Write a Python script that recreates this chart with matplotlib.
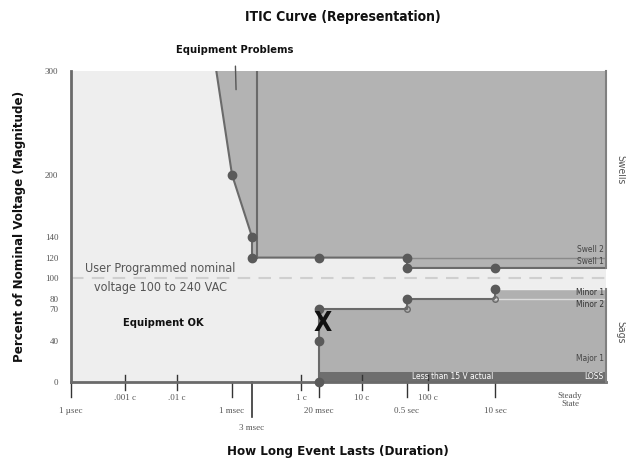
import numpy as np
import matplotlib
matplotlib.use('Agg')
import matplotlib.pyplot as plt
import matplotlib.transforms as mtransforms

# durations are in seconds, voltages in percent of nominal
STEADY = 100.0      # "Steady State" is drawn at this duration
RIGHT_END = 10 ** 2.5

# schematic time axis: log10(seconds) -> position (not a true log scale)
AXIS_LOG = [-6, -4.778, -3.778, -3, -2.523, -1.778, -1.699, -0.778, -0.301, 0.222, 1, 2, 2.5]
AXIS_POS = [0, 54, 106, 161, 181, 230, 248, 291, 336, 357, 424, 499, 535]

# swell side of the curve (equipment problems above it)
swell_t = [6e-4, 1e-3, 3e-3, 3e-3, 0.5, 0.5, RIGHT_END]
swell_v = [300, 200, 140, 120, 120, 110, 110]
swell_pts_t = [1e-3, 3e-3, 3e-3, 0.02, 0.5, 0.5, 10]
swell_pts_v = [200, 140, 120, 120, 120, 110, 110]
swell_edge_t = 3.6e-3

# sag side of the curve
sag_t = [0.02, 0.02, 0.5, 0.5, 10, 10, RIGHT_END]
sag_v = [0, 70, 70, 80, 80, 90, 90]
sag_pts_t = [0.02, 0.02, 0.02, 0.5, 10]
sag_pts_v = [0, 40, 70, 80, 90]
sag_small_t = [0.5, 10]
sag_small_v = [70, 80]
loss_level = 10

# axis ticks
cycle_labels = ['.001 c', '.01 c', '1 c', '10 c', '100 c']
cycle_t = [1 / 60000, 1 / 6000, 1 / 60, 10 / 60, 100 / 60]
time_labels = ['1 \u00b5sec', '1 msec', '20 msec', '0.5 sec', '10 sec']
time_t = [1e-6, 1e-3, 0.02, 0.5, 10]
y_ticks = [0, 40, 70, 80, 100, 120, 140, 200, 300]

# band labels on the right
band_labels = ['Swell 2', 'Swell 1', 'Minor 1', 'Minor 2', 'Major 1']
band_v = [128, 116, 86, 75, 23]


def fwd(x):
    return np.interp(np.log10(np.clip(x, 1e-9, None)), AXIS_LOG, AXIS_POS)


def inv(p):
    return 10 ** np.interp(p, AXIS_POS, AXIS_LOG)


narrow = dict(family='DejaVu Sans', stretch='condensed')
serif = ['Liberation Serif', 'DejaVu Serif']

fig = plt.figure(figsize=(6.26, 4.63), dpi=100)
W, H = 626, 463
ax = fig.add_axes([71 / W, 1 - 382 / H, 535 / W, 311 / H])
ax.set_xscale('function', functions=(fwd, inv))
ax.set_xlim(1e-6, RIGHT_END)
ax.set_ylim(0, 300)
ax.set_facecolor('#eeeeee')

# swell region
ax.fill(swell_t + [RIGHT_END], swell_v + [300], color='#b3b3b3', zorder=1, lw=0)
ax.plot(swell_t[:-1] + [RIGHT_END], swell_v[:-1] + [110], color='#6a6a6a', lw=1.5, zorder=3)
ax.plot([swell_edge_t, swell_edge_t], [120, 300], color='#6a6a6a', lw=1.5, zorder=3)
ax.plot([0.5, RIGHT_END], [120, 120], color='#8a8a8a', lw=1, zorder=3)

# sag region
ax.fill(sag_t + [RIGHT_END], sag_v + [0], color='#b0b0b0', zorder=1, lw=0)
ax.plot(sag_t[:-1], sag_v[:-1], color='#6a6a6a', lw=1.5, zorder=3)
ax.plot([10, RIGHT_END], [90, 90], color='#f0f0f0', lw=1, zorder=3)
ax.plot([10, RIGHT_END], [80, 80], color='#dcdcdc', lw=1, zorder=3)
ax.fill_between([0.021, RIGHT_END], 0, loss_level, color='#6e6e6e', zorder=2, lw=0)

# nominal dashed line
ax.axhline(100, color='#cfcfcf', lw=1.5, dashes=(6, 4), zorder=2)

ax.plot(swell_pts_t, swell_pts_v, 'o', color='#5a5a5a', ms=6, zorder=4)
ax.plot(sag_pts_t, sag_pts_v, 'o', color='#5a5a5a', ms=6, zorder=4, clip_on=False)
ax.plot(sag_small_t, sag_small_v, 'o', mfc='none', mec='#6a6a6a', ms=4, zorder=4)

# right edge
ax.plot([RIGHT_END, RIGHT_END], [110, 300], color='#808080', lw=1.5, clip_on=False, zorder=3)
ax.plot([RIGHT_END, RIGHT_END], [0, 90], color='#808080', lw=1.5, clip_on=False, zorder=3)

# spines
for s in ['top', 'right']:
    ax.spines[s].set_visible(False)
ax.spines['left'].set_color('#6a6a6a')
ax.spines['left'].set_linewidth(2)
ax.spines['bottom'].set_color('#6a6a6a')
ax.spines['bottom'].set_linewidth(2)

ax.set_yticks(y_ticks)
ax.set_yticklabels([str(v) for v in y_ticks], family=serif, fontsize=6.5, color='#555555')
ax.tick_params(axis='y', length=0, pad=9)
ax.set_xticks([])
ax.xaxis.set_minor_locator(matplotlib.ticker.NullLocator())

# custom x ticks in data x / axes y
trans = mtransforms.blended_transform_factory(ax.transData, ax.transAxes)
px = 1 / 311
for t, lab in zip(cycle_t, cycle_labels):
    ax.plot([t, t], [7 * px, -8 * px], color='#333333', lw=1, transform=trans, clip_on=False)
    ax.text(t, -16 * px, lab, transform=trans, ha='center', va='center',
            family=serif, fontsize=6.5, color='#555555')
for t, lab in zip(time_t, time_labels):
    ax.plot([t, t], [0, -15 * px], color='#333333', lw=1, transform=trans, clip_on=False)
    ax.text(t, -29 * px, lab, transform=trans, ha='center', va='center',
            family=serif, fontsize=6.5, color='#555555')
ax.plot([3e-3, 3e-3], [0, -35 * px], color='#333333', lw=1.2, transform=trans, clip_on=False)
ax.text(3e-3, -46 * px, '3 msec', transform=trans, ha='center', va='center',
        family=serif, fontsize=6.5, color='#555555')
ax.text(STEADY, -18 * px, 'Steady\nState', transform=trans, ha='center', va='center',
        family=serif, fontsize=6.5, color='#555555', linespacing=1.1)

# band labels
for lab, v in zip(band_labels, band_v):
    c = '#333333' if lab.startswith('Minor') else '#444444'
    ax.text(RIGHT_END * 0.93, v, lab, ha='right', va='center', fontsize=6,
            color=c, zorder=5, **narrow)
ax.text(RIGHT_END * 0.93, 5, 'LOSS', ha='right', va='center', fontsize=6,
        color='white', zorder=5, **narrow)
ax.text(3.2, 5, 'Less than 15 V actual', ha='center', va='center', fontsize=6,
        color='white', zorder=5, **narrow)

# annotations
ax.text(7.9e-5, 100, 'User Programmed nominal\nvoltage 100 to 240 VAC', ha='center',
        va='center', fontsize=9, color='#555555', linespacing=1.6, **narrow)
ax.text(9e-5, 57, 'Equipment OK', ha='center', va='center', fontsize=8,
        fontweight='bold', color='#111111', **narrow)
ax.text(0.024, 56, 'X', ha='center', va='center', fontsize=19,
        fontweight='bold', color='#111111', zorder=6, **narrow)
ax.annotate('Equipment Problems', xy=(1.25e-3, 282), xytext=(235 / W, 1 - 50 / H),
            textcoords='figure fraction', ha='center', va='center',
            fontsize=8, fontweight='bold', color='#111111',
            arrowprops=dict(arrowstyle='-', color='#555555', lw=1, shrinkA=6, shrinkB=0),
            **narrow)

# right brackets
btrans = mtransforms.blended_transform_factory(ax.transAxes, ax.transData)
ax.plot([1.06, 1.075, 1.075, 1.06], [300, 300, 110, 110], color='#555555', lw=1,
        transform=btrans, clip_on=False)
ax.plot([1.06, 1.075, 1.075, 1.06], [90, 90, -1, -1], color='#555555', lw=1,
        transform=btrans, clip_on=False)
fig.text(620 / W, 1 - 170 / H, 'Swells', rotation=-90, ha='center', va='center',
         fontsize=7.5, color='#555555', **narrow)
fig.text(620 / W, 1 - 332 / H, 'Sags', rotation=-90, ha='center', va='center',
         fontsize=7.5, color='#555555', **narrow)

fig.text(343 / W, 1 - 17 / H, 'ITIC Curve (Representation)', ha='center', va='center',
         fontsize=10, fontweight='bold', color='#111111', **narrow)
fig.text(20 / W, 1 - 226 / H, 'Percent of Nominal Voltage (Magnitude)', rotation=90,
         ha='center', va='center', fontsize=9.5, fontweight='bold', color='#111111', **narrow)
fig.text(338 / W, 1 - 452 / H, 'How Long Event Lasts (Duration)', ha='center', va='center',
         fontsize=9.5, fontweight='bold', color='#111111', **narrow)

fig.savefig('out.png', dpi=100, facecolor='white')
